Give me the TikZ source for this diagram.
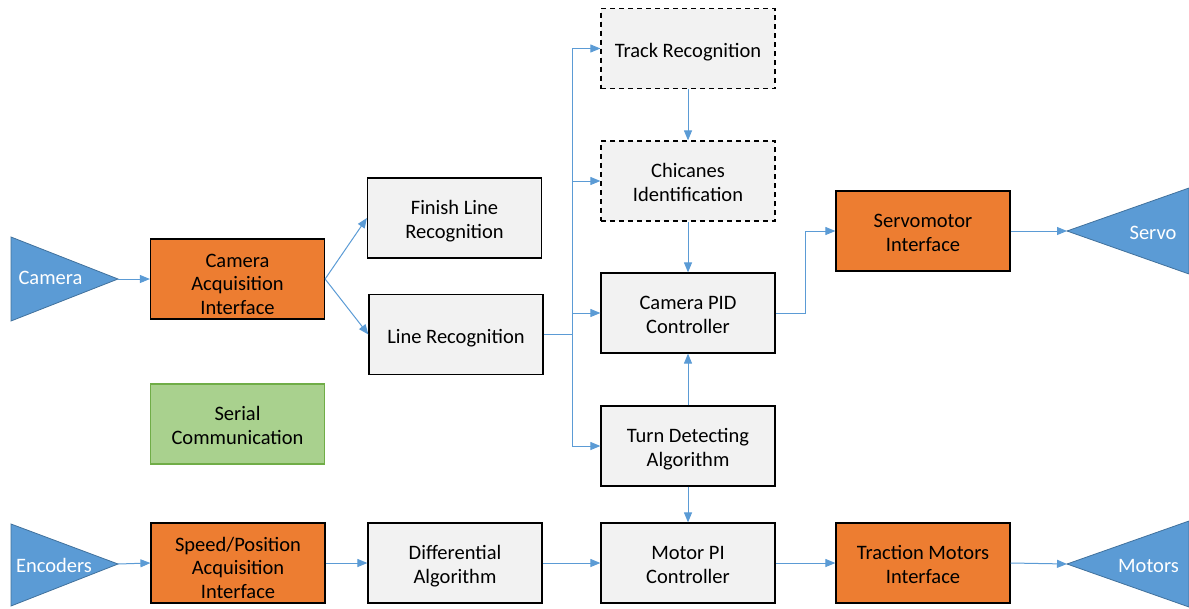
\documentclass[tikz,border=0pt]{standalone}
\usepackage{fontspec}
\setmainfont{Carlito}
\usetikzlibrary{arrows.meta,positioning}
\definecolor{boxgray}{HTML}{F2F2F2}
\definecolor{ifaceorange}{HTML}{ED7D31}
\definecolor{serialgreen}{HTML}{A9D18E}
\definecolor{serialedge}{HTML}{70AD47}
\definecolor{linkblue}{HTML}{5B9BD5}
\definecolor{portedge}{HTML}{41719C}
% fixed ascent/descent of the text block, so every label sits the same way
\tikzset{
  boxtext/.style={font=\fontsize{20.5}{23.5}\selectfont, text height=20pt, text depth=3pt},
  lines2/.style={text height=43.5pt},
  lines3/.style={text height=73pt},
  block/.style={boxtext, draw=black, line width=1.2pt, fill=boxgray, minimum width=174pt, minimum height=80pt,
    align=center, inner sep=0pt},
  iface/.style={block, fill=ifaceorange},
  optional/.style={block, dashed, dash pattern=on 5pt off 4pt},
  serial/.style={block, fill=serialgreen, draw=serialedge},
  port/.style={fill=linkblue, draw=portedge, line width=0.8pt},
  portlabel/.style={boxtext, text=white, inner sep=0pt},
  link/.style={draw=linkblue, line width=1pt, -{Triangle[length=10pt,width=8pt]}},
  wire/.style={draw=linkblue, line width=1pt}
}
\begin{document}
\begin{tikzpicture}[x=1pt,y=-1pt]
\useasboundingbox (0,0) rectangle (1189,608);

% input / output ports (triangles)
\filldraw[port] (11,237) -- (118,279) -- (11,321) -- cycle;
\coordinate (camtip) at (118,279);
\node[portlabel] (camlbl) at (50.5,276) {Camera};

\filldraw[port] (11,524) -- (118,564) -- (11,606) -- cycle;
\coordinate (enctip) at (118,564);
\node[portlabel] (enclbl) at (54,564) {Encoders};

\filldraw[port] (1189,188) -- (1067,231) -- (1189,274) -- cycle;
\coordinate (servotip) at (1067,231);
\node[portlabel] (servolbl) at (1153,231) {Servo};

\filldraw[port] (1189,521) -- (1067,564) -- (1189,607) -- cycle;
\coordinate (motorstip) at (1067,564);
\node[portlabel] (motorslbl) at (1148.5,564) {Motors};

% processing blocks
\node[iface, lines3] (cai) at (237.5,279) {Camera\\Acquisition\\Interface};
\node[block, lines2] (flr) at (454.5,218) {Finish Line\\Recognition};
\node[block] (lr) at (456,334.5) {Line Recognition};
\node[serial, lines2] (ser) at (237.5,424) {Serial\\Communication};

\node[optional] (track) at (688,48.5) {Track Recognition};
\node[optional, lines2] (chic) at (688,181) {Chicanes\\Identification};
\node[block, lines2] (pid) at (688,313) {Camera PID\\Controller};
\node[block, lines2] (turn) at (688,446) {Turn Detecting\\Algorithm};
\node[iface, lines2] (servoif) at (923,231) {Servomotor\\Interface};

\node[iface, lines3] (spai) at (238,563) {Speed/Position\\Acquisition\\Interface};
\node[block, lines2] (diff) at (455,563) {Differential\\Algorithm};
\node[block, lines2] (mpi) at (688,563) {Motor PI\\Controller};
\node[iface, lines2] (trac) at (923,563) {Traction Motors\\Interface};

% camera path
\draw[link] (camtip) -- (cai.west);
\draw[link] (cai.east) -- (flr.west);
\draw[link] (cai.east) -- (lr.west);

% distribution bus from line recognition
\coordinate (bus) at (572,334.5);
\draw[wire] (lr.east) -- (bus);
\draw[wire] (572,48.5) -- (572,446);
\draw[link] (572,48.5) -- (track.west);
\draw[link] (572,181) -- (chic.west);
\draw[link] (572,313) -- (pid.west);
\draw[link] (572,446) -- (turn.west);

\draw[link] (track.south) -- (chic.north);
\draw[link] (chic.south) -- (pid.north);
\draw[link] (turn.north) -- (pid.south);
\draw[link] (pid.east) -- (805,313) |- (servoif.west);
\draw[link] (servoif.east) -- (servotip);
\draw[link] (turn.south) -- (mpi.north);

% motor path
\draw[link] (enctip) -- (spai.west);
\draw[link] (spai.east) -- (diff.west);
\draw[link] (diff.east) -- (mpi.west);
\draw[link] (mpi.east) -- (trac.west);
\draw[link] (trac.east) -- (motorstip);
\end{tikzpicture}
\end{document}
